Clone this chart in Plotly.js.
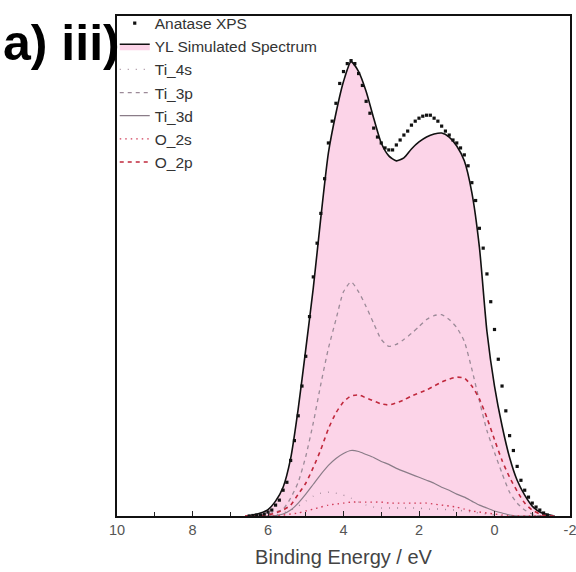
<!DOCTYPE html>
<html>
<head>
<meta charset="utf-8">
<script src="https://cdn.plot.ly/plotly-3.0.1.min.js"></script>
<style>html,body{margin:0;padding:0;background:#fff;}#chart{width:576px;height:572px;}</style>
</head>
<body>
<div id="chart"></div>
<script>
// Experimental XPS (binding energy, eV) and intensity (a.u.)
const xpsEnergy = [6.5,6.4,6.3,6.2,6.1,6.0,5.9,5.8,5.7,5.6,5.5,5.4,5.3,5.2,5.1,5.0,4.9,4.8,4.7,4.6,4.5,4.4,4.3,4.2,4.1,4.0,3.9,3.8,3.7,3.6,3.5,3.4,3.3,3.2,3.1,3.0,2.9,2.8,2.7,2.6,2.5,2.4,2.3,2.2,2.1,2.0,1.9,1.8,1.7,1.6,1.5,1.4,1.3,1.2,1.1,1.0,0.9,0.8,0.7,0.6,0.5,0.4,0.3,0.2,0.1,0.0,-0.1,-0.2,-0.3,-0.4,-0.5,-0.6,-0.7,-0.8,-0.9,-1.0,-1.1,-1.2,-1.3,-1.4];
const xpsIntensity = [0,0.5,1,1,2,4,6,11,16,26,34,56,76,101,131,161,201,241,275,305,340,376,398,416,436,448,456,459,456,446,434,418,406,391,382,376,371,369,369,374,379,384,388,394,398,401,403,404,404,401,398,393,388,384,379,376,371,364,353,336,318,290,270,244,216,188,158,131,106,81,66,50,36,26,19,13,9,6,3,1];

// Simulated spectrum and partial contributions
const simEnergy = [6.6,6.4,6.2,6.0,5.8,5.6,5.4,5.2,5.0,4.8,4.6,4.4,4.2,4.0,3.8,3.6,3.4,3.2,3.0,2.8,2.6,2.4,2.2,2.0,1.8,1.6,1.4,1.2,1.0,0.8,0.6,0.4,0.2,0.0,-0.2,-0.4,-0.6,-0.8,-1.0,-1.2,-1.4,-1.6];
const simTotal = [0,1,3,6.5,15,29,58,108,168,230,301,366,406,438,458,448,428,401,376,363,358,361,370,377,382,385,386,382,373,358,326,271,186,131,91,59,36,21,10,4,1.5,0];
const ti4s = [0,0,0,0,1,3,6,10,15,20,23,24,23,21,18,14,11,9,8,8,8,8,8,8,7,7,7,6,6,5,4,3,2,1,0,0,0,0,0,0,0,0];
const ti3p = [0,0,1,2,4,7,18,34,60,94,133,169,198,226,236,226,211,194,178,171,173,178,184,191,198,202,203,198,190,176,148,116,86,64,43,24,13,6,2,0,0,0];
const ti3d = [0,0,0,0,0.5,2,6,13,22,32,42,51,58,63,66,65,62,59,55,52,48,45,42,39,36,33,29,26,22,19,15,11,8,5,3,1,0,0,0,0,0,0];
const o2s = [0,0,0,0,0,1,2,3,5,7,9,11,12,13,14,14,14,14,14,13,13,13,13,13,13,12,11,10,9,7,5,4,3,2,1,0,0,0,0,0,0,0];
const o2p = [0,0,0,1,3,6,11,22,33,49,67,88,104,115,121,122,119,116,113,112,114,117,121,124,127,131,135,138,140,139,131,118,99,77,56,39,25,13,6,2,0,0];

const xTickVals = [10,8,6,4,2,0,-2];
const xTickText = ['10','8','6','4','2','0','-2'];

const FONT = '"Liberation Sans", Arial, sans-serif';

const traces = [
  {name:'YL Simulated Spectrum', x:simEnergy, y:simTotal, type:'scatter', mode:'lines',
   line:{color:'#111', width:1.6, shape:'spline', smoothing:0.6}, fill:'tozeroy', fillcolor:'#fcd4e8', legendrank:2},
  {name:'Ti_4s', x:simEnergy, y:ti4s, type:'scatter', mode:'lines',
   line:{color:'#a08898', width:1.4, dash:'1px,7px', shape:'spline', smoothing:0.6}, legendrank:3},
  {name:'Ti_3p', x:simEnergy, y:ti3p, type:'scatter', mode:'lines',
   line:{color:'#9c8a98', width:1.3, dash:'4px,4px', shape:'spline', smoothing:0.6}, legendrank:4},
  {name:'Ti_3d', x:simEnergy, y:ti3d, type:'scatter', mode:'lines',
   line:{color:'#8a7c88', width:1.2, shape:'spline', smoothing:0.6}, legendrank:5},
  {name:'O_2s', x:simEnergy, y:o2s, type:'scatter', mode:'lines',
   line:{color:'#d03c58', width:1.4, dash:'1.5px,4px', shape:'spline', smoothing:0.6}, legendrank:6},
  {name:'O_2p', x:simEnergy, y:o2p, type:'scatter', mode:'lines',
   line:{color:'#c0283c', width:1.6, dash:'4px,4px', shape:'spline', smoothing:0.6}, legendrank:7},
  {name:'Anatase XPS', x:xpsEnergy, y:xpsIntensity, type:'scatter', mode:'markers',
   marker:{symbol:'square', size:3.2, color:'#111'}, legendrank:1}
];

const layout = {
  width:576, height:572,
  margin:{l:117, r:6, t:12, b:56},
  paper_bgcolor:'#fff', plot_bgcolor:'#fff',
  font:{family:FONT, color:'#333', size:14},
  showlegend:true,
  legend:{x:-0.005, y:1.019, xanchor:'left', yanchor:'top', bgcolor:'rgba(0,0,0,0)',
          borderwidth:0, font:{family:FONT, size:15.5, color:'#333'}, traceorder:'normal', itemwidth:30},
  xaxis:{range:[10,-2], tickvals:xTickVals, ticktext:xTickText, ticks:'inside', ticklen:5, tickwidth:1, tickcolor:'#222',
         minor:{dtick:1, ticks:'inside', ticklen:4, tickcolor:'#222'},
         showline:true, linecolor:'#111', linewidth:1.6, mirror:true, showgrid:false, zeroline:false,
         ticklabeloverflow:'allow',
         tickfont:{family:FONT, size:14.5, color:'#555'},
         title:{text:'Binding Energy / eV', font:{family:FONT, size:20, color:'#444'}, standoff:13}},
  yaxis:{range:[0,504], showticklabels:false, ticks:'', showline:true, linecolor:'#111', linewidth:1.6, mirror:true,
         showgrid:false, zeroline:false},
  annotations:[{text:'<b>a) iii)</b>', xref:'paper', yref:'paper', x:-0.256, y:0.946, xanchor:'left', yanchor:'middle',
                showarrow:false, font:{family:FONT, size:50, color:'#000'}}]
};

Plotly.newPlot('chart', traces, layout, {displayModeBar:false, staticPlot:true});
</script>
</body>
</html>
